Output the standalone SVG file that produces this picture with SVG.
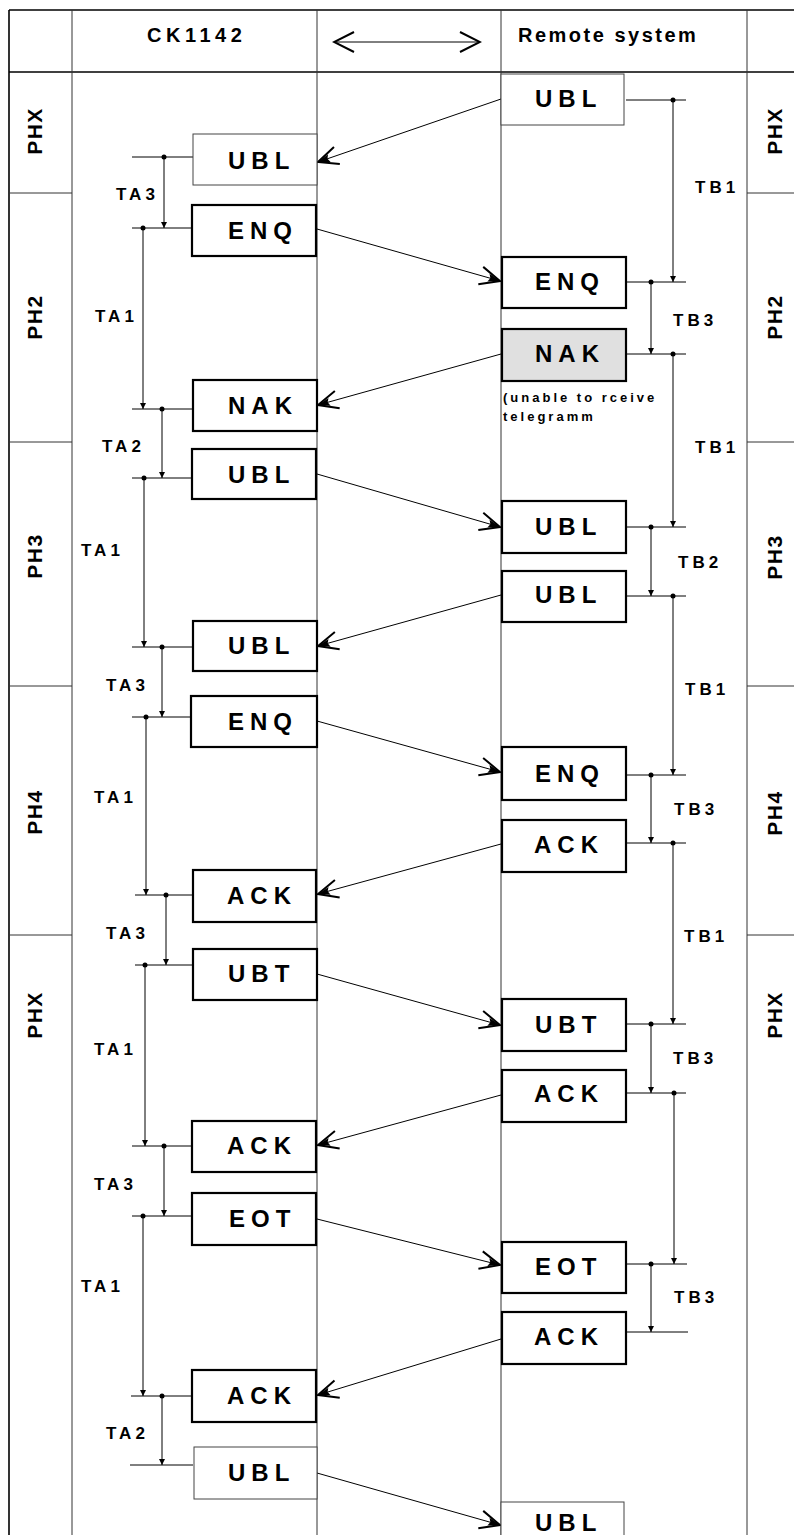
<svg xmlns="http://www.w3.org/2000/svg" width="794" height="1535" viewBox="0 0 794 1535">
<defs>
<style>
.g{stroke:#333;stroke-width:1;fill:none}
.f{stroke:#000;stroke-width:1.6;fill:none}
.box{fill:#fff;stroke:#000;stroke-width:2.2}
.thin{fill:#fff;stroke:#444;stroke-width:1}
.nak{fill:#e0e0e0;stroke:#000;stroke-width:2.2}
text{font-family:"Liberation Sans",Arial,sans-serif;font-weight:bold;fill:#000}
.bt{font-size:24px;letter-spacing:6px}
.lb{font-size:17px;letter-spacing:4px}
.ph{font-size:21px;letter-spacing:1.5px;text-anchor:middle}
.hd{font-size:20px}
.nt{font-size:13px;letter-spacing:3px}
.t{stroke:#000;stroke-width:1;fill:none}
.tm{stroke:#000;stroke-width:1;fill:none;marker-end:url(#tk)}
.m{stroke:#000;stroke-width:1;fill:none;marker-end:url(#msg)}
.d{fill:#000}
</style>
<marker id="msg" markerUnits="userSpaceOnUse" markerWidth="26" markerHeight="24" refX="23" refY="12" orient="auto">
<path d="M3,3 L23,12 L3,21" fill="none" stroke="#000" stroke-width="2"/>
<path d="M23,12 L11,8 L13,12 L11,16 Z" fill="#000"/>
</marker>
<marker id="hdm" markerUnits="userSpaceOnUse" markerWidth="24" markerHeight="24" refX="22" refY="12" orient="auto-start-reverse">
<path d="M2,2 L22,12 L2,22" fill="none" stroke="#000" stroke-width="2"/>
</marker>
<marker id="tk" markerUnits="userSpaceOnUse" markerWidth="8" markerHeight="8" refX="6" refY="4" orient="auto">
<path d="M0,1 L6,4 L0,7 Z" fill="#000"/>
</marker>
</defs>
<rect width="794" height="1535" fill="#fff"/>

<g id="grid">
<line class="f" x1="9" y1="10" x2="794" y2="10"/>
<line class="f" x1="9" y1="72" x2="794" y2="72"/>
<line class="f" x1="9" y1="10" x2="9" y2="1535"/>
<line class="g" x1="72" y1="10" x2="72" y2="1535"/>
<line class="g" x1="317" y1="10" x2="317" y2="1535"/>
<line class="g" x1="501" y1="10" x2="501" y2="1535"/>
<line class="g" x1="747" y1="10" x2="747" y2="1535"/>
<line class="g" x1="9" y1="193" x2="72" y2="193"/>
<line class="g" x1="9" y1="442" x2="72" y2="442"/>
<line class="g" x1="9" y1="686" x2="72" y2="686"/>
<line class="g" x1="9" y1="935" x2="72" y2="935"/>
<line class="g" x1="747" y1="193" x2="794" y2="193"/>
<line class="g" x1="747" y1="442" x2="794" y2="442"/>
<line class="g" x1="747" y1="686" x2="794" y2="686"/>
<line class="g" x1="747" y1="935" x2="794" y2="935"/>
</g>

<g id="header">
<text class="hd" x="147" y="42" letter-spacing="4.5">CK1142</text>
<text class="hd" x="518" y="42" letter-spacing="2.5">Remote system</text>
<line x1="334" y1="42" x2="480" y2="42" stroke="#000" stroke-width="1" marker-start="url(#hdm)" marker-end="url(#hdm)"/>
</g>

<g id="phases">
<text class="ph" transform="translate(35,131) rotate(-90)" y="7">PHX</text>
<text class="ph" transform="translate(35,317) rotate(-90)" y="7">PH2</text>
<text class="ph" transform="translate(35,556) rotate(-90)" y="7">PH3</text>
<text class="ph" transform="translate(35,812) rotate(-90)" y="7">PH4</text>
<text class="ph" transform="translate(35,1015) rotate(-90)" y="7">PHX</text>
<text class="ph" transform="translate(775,131) rotate(-90)" y="7">PHX</text>
<text class="ph" transform="translate(775,317) rotate(-90)" y="7">PH2</text>
<text class="ph" transform="translate(775,557) rotate(-90)" y="7">PH3</text>
<text class="ph" transform="translate(775,813) rotate(-90)" y="7">PH4</text>
<text class="ph" transform="translate(775,1015) rotate(-90)" y="7">PHX</text>
</g>

<g id="connectors">
<line class="m" x1="501" y1="99" x2="318" y2="162"/>
<line class="m" x1="317" y1="229" x2="500" y2="281"/>
<line class="m" x1="501" y1="354" x2="318" y2="405"/>
<line class="m" x1="317" y1="474" x2="500" y2="527"/>
<line class="m" x1="501" y1="595" x2="318" y2="646"/>
<line class="m" x1="317" y1="721" x2="500" y2="772"/>
<line class="m" x1="501" y1="844" x2="318" y2="894"/>
<line class="m" x1="317" y1="974" x2="500" y2="1025"/>
<line class="m" x1="501" y1="1095" x2="318" y2="1145"/>
<line class="m" x1="317" y1="1219" x2="500" y2="1265"/>
<line class="m" x1="501" y1="1339" x2="318" y2="1395"/>
<line class="m" x1="317" y1="1473" x2="500" y2="1525"/>
</g>

<g id="timing-left">
<line class="t" x1="132" y1="157" x2="193" y2="157"/>
<line class="t" x1="132" y1="228" x2="193" y2="228"/>
<line class="t" x1="132" y1="409" x2="193" y2="409"/>
<line class="t" x1="132" y1="478" x2="193" y2="478"/>
<line class="t" x1="132" y1="647" x2="193" y2="647"/>
<line class="t" x1="132" y1="717" x2="193" y2="717"/>
<line class="t" x1="135" y1="895" x2="193" y2="895"/>
<line class="t" x1="135" y1="965" x2="193" y2="965"/>
<line class="t" x1="132" y1="1146" x2="193" y2="1146"/>
<line class="t" x1="132" y1="1216" x2="193" y2="1216"/>
<line class="t" x1="131" y1="1396" x2="193" y2="1396"/>
<line class="t" x1="130" y1="1465" x2="193" y2="1465"/>
<line class="tm" x1="164" y1="157" x2="164" y2="228"/>
<line class="tm" x1="143" y1="228" x2="143" y2="409"/>
<line class="tm" x1="162" y1="409" x2="162" y2="478"/>
<line class="tm" x1="144" y1="478" x2="144" y2="647"/>
<line class="tm" x1="162" y1="647" x2="162" y2="717"/>
<line class="tm" x1="146" y1="717" x2="146" y2="895"/>
<line class="tm" x1="166" y1="895" x2="166" y2="965"/>
<line class="tm" x1="145" y1="965" x2="145" y2="1146"/>
<line class="tm" x1="164" y1="1146" x2="164" y2="1216"/>
<line class="tm" x1="143" y1="1216" x2="143" y2="1396"/>
<line class="tm" x1="162" y1="1396" x2="162" y2="1465"/>
<circle class="d" cx="164" cy="157" r="2.5"/>
<circle class="d" cx="143" cy="228" r="2.5"/>
<circle class="d" cx="162" cy="409" r="2.5"/>
<circle class="d" cx="144" cy="478" r="2.5"/>
<circle class="d" cx="162" cy="647" r="2.5"/>
<circle class="d" cx="146" cy="717" r="2.5"/>
<circle class="d" cx="166" cy="895" r="2.5"/>
<circle class="d" cx="145" cy="965" r="2.5"/>
<circle class="d" cx="164" cy="1146" r="2.5"/>
<circle class="d" cx="143" cy="1216" r="2.5"/>
<circle class="d" cx="162" cy="1396" r="2.5"/>
<text class="lb" x="116" y="200">TA3</text>
<text class="lb" x="95" y="322">TA1</text>
<text class="lb" x="102" y="452">TA2</text>
<text class="lb" x="81" y="556">TA1</text>
<text class="lb" x="106" y="691">TA3</text>
<text class="lb" x="94" y="803">TA1</text>
<text class="lb" x="106" y="939">TA3</text>
<text class="lb" x="94" y="1055">TA1</text>
<text class="lb" x="94" y="1190">TA3</text>
<text class="lb" x="81" y="1292">TA1</text>
<text class="lb" x="106" y="1439">TA2</text>
</g>

<g id="timing-right">
<line class="t" x1="626" y1="100" x2="686" y2="100"/>
<line class="t" x1="626" y1="282" x2="686" y2="282"/>
<line class="t" x1="626" y1="354" x2="686" y2="354"/>
<line class="t" x1="626" y1="527" x2="686" y2="527"/>
<line class="t" x1="626" y1="596" x2="686" y2="596"/>
<line class="t" x1="626" y1="775" x2="686" y2="775"/>
<line class="t" x1="626" y1="843" x2="686" y2="843"/>
<line class="t" x1="626" y1="1024" x2="686" y2="1024"/>
<line class="t" x1="626" y1="1093" x2="686" y2="1093"/>
<line class="t" x1="626" y1="1264" x2="687" y2="1264"/>
<line class="t" x1="626" y1="1332" x2="688" y2="1332"/>
<line class="tm" x1="673" y1="100" x2="673" y2="282"/>
<line class="tm" x1="651" y1="282" x2="651" y2="354"/>
<line class="tm" x1="673" y1="354" x2="673" y2="527"/>
<line class="tm" x1="651" y1="527" x2="651" y2="596"/>
<line class="tm" x1="673" y1="596" x2="673" y2="775"/>
<line class="tm" x1="651" y1="775" x2="651" y2="843"/>
<line class="tm" x1="673" y1="843" x2="673" y2="1024"/>
<line class="tm" x1="651" y1="1024" x2="651" y2="1093"/>
<line class="tm" x1="674" y1="1093" x2="674" y2="1264"/>
<line class="tm" x1="651" y1="1264" x2="651" y2="1332"/>
<circle class="d" cx="673" cy="100" r="2.5"/>
<circle class="d" cx="651" cy="282" r="2.5"/>
<circle class="d" cx="673" cy="354" r="2.5"/>
<circle class="d" cx="651" cy="527" r="2.5"/>
<circle class="d" cx="673" cy="596" r="2.5"/>
<circle class="d" cx="651" cy="775" r="2.5"/>
<circle class="d" cx="673" cy="843" r="2.5"/>
<circle class="d" cx="651" cy="1024" r="2.5"/>
<circle class="d" cx="674" cy="1093" r="2.5"/>
<circle class="d" cx="651" cy="1264" r="2.5"/>
<text class="lb" x="695" y="193">TB1</text>
<text class="lb" x="673" y="326">TB3</text>
<text class="lb" x="695" y="453">TB1</text>
<text class="lb" x="678" y="568">TB2</text>
<text class="lb" x="685" y="695">TB1</text>
<text class="lb" x="674" y="815">TB3</text>
<text class="lb" x="684" y="942">TB1</text>
<text class="lb" x="673" y="1064">TB3</text>
<text class="lb" x="674" y="1303">TB3</text>
</g>

<g id="L1"><rect class="thin" x="193" y="134" width="124" height="51"/><text class="bt" x="228" y="169">UBL</text></g>
<g id="L2"><rect class="box" x="192" y="205" width="124" height="51"/><text class="bt" x="228" y="239">ENQ</text></g>
<g id="L3"><rect class="box" x="193" y="380" width="124" height="51"/><text class="bt" x="228" y="414">NAK</text></g>
<g id="L4"><rect class="box" x="192" y="449" width="124" height="50"/><text class="bt" x="228" y="483">UBL</text></g>
<g id="L5"><rect class="box" x="193" y="621" width="124" height="50"/><text class="bt" x="228" y="654">UBL</text></g>
<g id="L6"><rect class="box" x="191" y="696" width="126" height="51"/><text class="bt" x="228" y="730">ENQ</text></g>
<g id="L7"><rect class="box" x="193" y="870" width="123" height="52"/><text class="bt" x="227" y="904">ACK</text></g>
<g id="L8"><rect class="box" x="193" y="949" width="124" height="51"/><text class="bt" x="228" y="982">UBT</text></g>
<g id="L9"><rect class="box" x="192" y="1121" width="124" height="51"/><text class="bt" x="227" y="1154">ACK</text></g>
<g id="L10"><rect class="box" x="192" y="1193" width="124" height="52"/><text class="bt" x="229" y="1227">EOT</text></g>
<g id="L11"><rect class="box" x="192" y="1370" width="124" height="52"/><text class="bt" x="227" y="1404">ACK</text></g>
<g id="L12"><rect class="thin" x="194" y="1447" width="123" height="52"/><text class="bt" x="228" y="1481">UBL</text></g>

<g id="R1"><rect class="thin" x="501" y="74" width="123" height="51"/><text class="bt" x="535" y="107">UBL</text></g>
<g id="R2"><rect class="box" x="502" y="257" width="124" height="51"/><text class="bt" x="535" y="290">ENQ</text></g>
<g id="R3"><rect class="nak" x="502" y="329" width="124" height="52"/><text class="bt" x="535" y="362">NAK</text>
<text class="nt" x="503" y="402">(unable to rceive</text><text class="nt" x="503" y="421">telegramm</text></g>
<g id="R4"><rect class="box" x="502" y="501" width="124" height="52"/><text class="bt" x="535" y="535">UBL</text></g>
<g id="R5"><rect class="box" x="502" y="571" width="124" height="51"/><text class="bt" x="535" y="603">UBL</text></g>
<g id="R6"><rect class="box" x="502" y="747" width="124" height="53"/><text class="bt" x="535" y="782">ENQ</text></g>
<g id="R7"><rect class="box" x="502" y="820" width="124" height="52"/><text class="bt" x="534" y="853">ACK</text></g>
<g id="R8"><rect class="box" x="502" y="999" width="124" height="52"/><text class="bt" x="535" y="1033">UBT</text></g>
<g id="R9"><rect class="box" x="502" y="1070" width="124" height="52"/><text class="bt" x="534" y="1102">ACK</text></g>
<g id="R10"><rect class="box" x="502" y="1242" width="124" height="51"/><text class="bt" x="535" y="1275">EOT</text></g>
<g id="R11"><rect class="box" x="502" y="1312" width="124" height="52"/><text class="bt" x="534" y="1345">ACK</text></g>
<g id="R12"><rect class="thin" x="501" y="1502" width="123" height="50"/><text class="bt" x="535" y="1531">UBL</text></g>
</svg>
